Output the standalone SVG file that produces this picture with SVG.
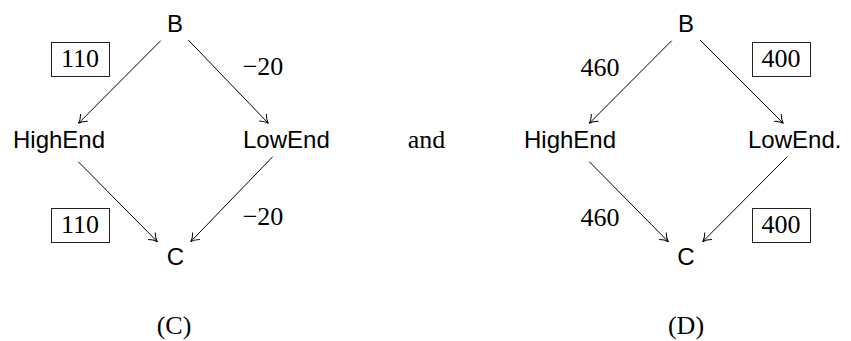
<svg xmlns="http://www.w3.org/2000/svg" width="851" height="341" viewBox="0 0 851 341">
<defs>
<style>
.node{font-family:"Liberation Sans",Arial,sans-serif;font-size:24px;fill:#000}
.num{font-family:"Liberation Serif","Times New Roman",serif;font-size:26px;fill:#000}
.edge{stroke:#000;stroke-width:1;fill:none;marker-end:url(#to)}
.box{fill:none;stroke:#222;stroke-width:1}
</style>
<marker id="to" markerUnits="userSpaceOnUse" viewBox="-10 -7 12 14" refX="0" refY="0" markerWidth="12" markerHeight="14" orient="auto" overflow="visible">
<path d="M -8,-5 C -5,-2 -2,-0.5 0,0 C -2,0.5 -5,2 -8,5" fill="none" stroke="#000" stroke-width="1"/>
</marker>
</defs>
<rect width="851" height="341" fill="#fff"/>
<g id="connectors">
<line class="edge" x1="160.7" y1="40.7" x2="78.5" y2="123.3"/>
<line class="edge" x1="188.3" y1="40" x2="268.3" y2="123.3"/>
<line class="edge" x1="78.3" y1="161.7" x2="157.3" y2="241.7"/>
<line class="edge" x1="272.7" y1="156.7" x2="190.7" y2="241.7"/>
<line class="edge" x1="671.7" y1="40.7" x2="589.3" y2="123.3"/>
<line class="edge" x1="700" y1="40" x2="783.3" y2="123.3"/>
<line class="edge" x1="589.3" y1="161.7" x2="668.3" y2="241.7"/>
<line class="edge" x1="787.3" y1="156.7" x2="702.7" y2="241.7"/>
</g>
<g id="labels">
<rect class="box" x="51.5" y="42.5" width="58" height="34"/>
<text class="num" x="80" y="67" text-anchor="middle">110</text>
<text class="num" x="263" y="75" text-anchor="middle">−20</text>
<rect class="box" x="51.5" y="208.5" width="58" height="34"/>
<text class="num" x="80" y="233" text-anchor="middle">110</text>
<text class="num" x="263" y="225" text-anchor="middle">−20</text>
<text class="num" x="600" y="76" text-anchor="middle">460</text>
<rect class="box" x="752.5" y="42.5" width="58" height="34"/>
<text class="num" x="781" y="67" text-anchor="middle">400</text>
<text class="num" x="600" y="226" text-anchor="middle">460</text>
<rect class="box" x="752.5" y="208.5" width="58" height="34"/>
<text class="num" x="781" y="233" text-anchor="middle">400</text>
</g>
<g id="B1"><text class="node" x="175" y="32" text-anchor="middle">B</text></g>
<g id="HighEnd1"><text class="node" x="13" y="148">HighEnd</text></g>
<g id="LowEnd1"><text class="node" x="243" y="148">LowEnd</text></g>
<g id="C1"><text class="node" x="175.5" y="265" text-anchor="middle">C</text></g>
<g id="B2"><text class="node" x="686" y="32" text-anchor="middle">B</text></g>
<g id="HighEnd2"><text class="node" x="524" y="148">HighEnd</text></g>
<g id="LowEnd2"><text class="node" x="748" y="148">LowEnd.</text></g>
<g id="C2"><text class="node" x="686" y="265" text-anchor="middle">C</text></g>
<g id="and"><text class="num" x="426.5" y="148" text-anchor="middle">and</text></g>
<g id="capC"><text class="num" x="174" y="334" text-anchor="middle">(C)</text></g>
<g id="capD"><text class="num" x="686" y="334" text-anchor="middle">(D)</text></g>
</svg>
